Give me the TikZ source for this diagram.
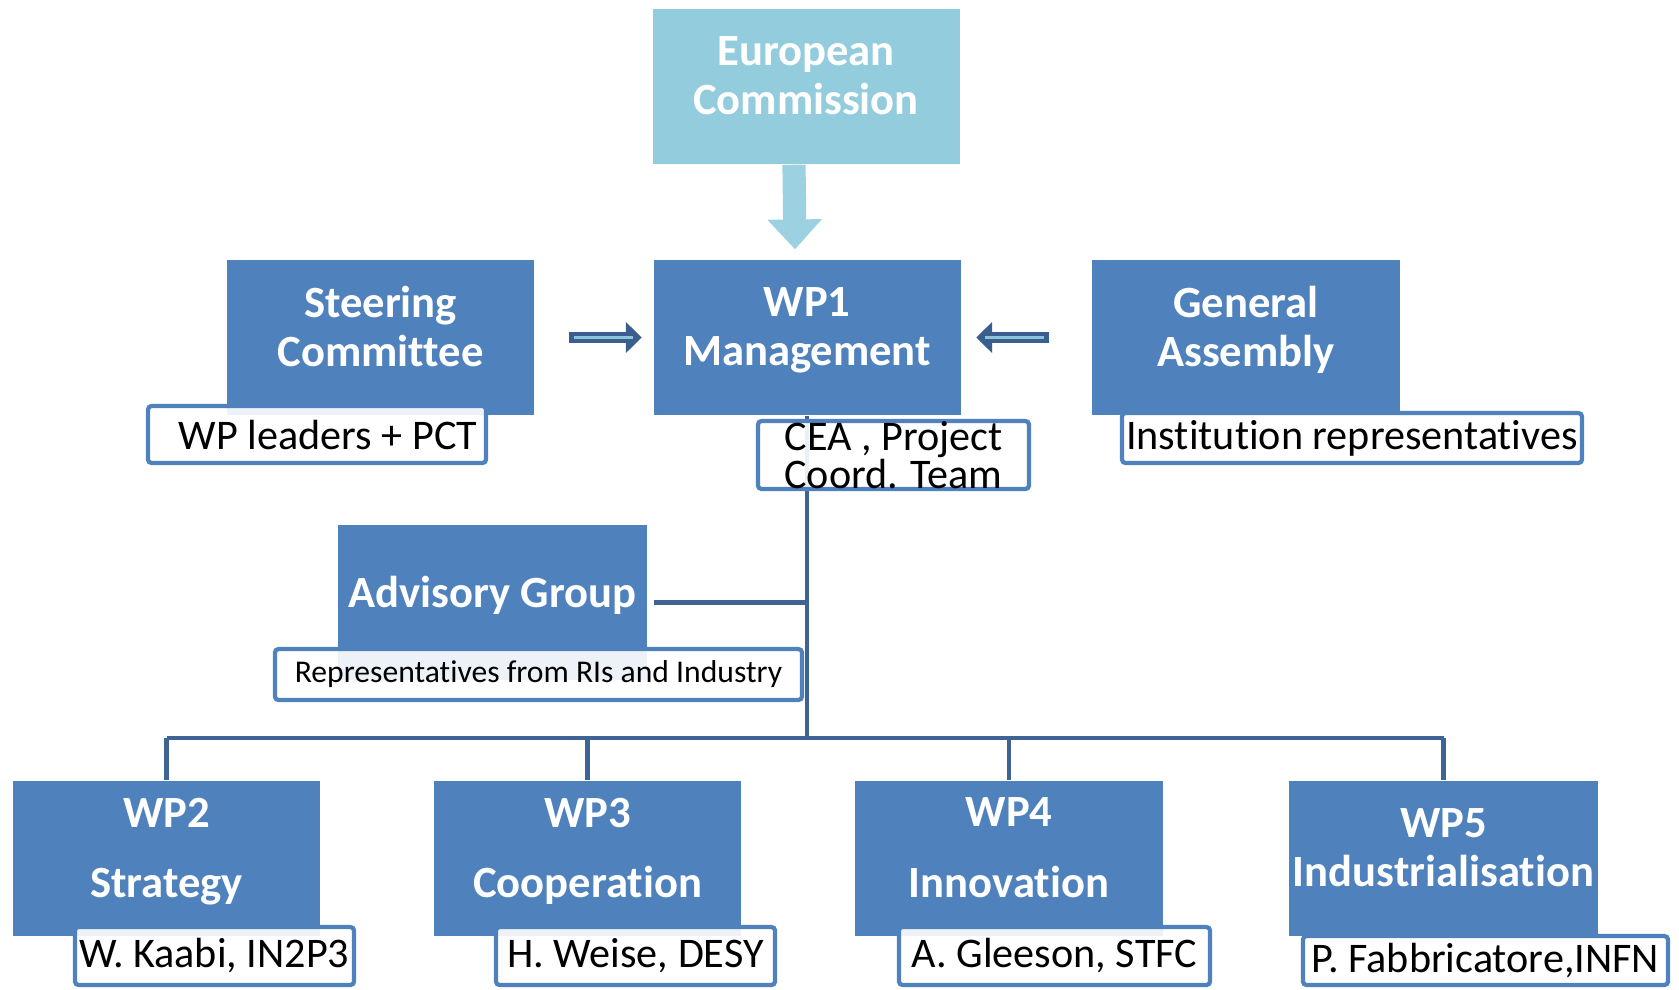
\documentclass[tikz,border=0pt]{standalone}
\usepackage{fontspec}
\setmainfont{Carlito}[Ligatures=NoCommon]
\usetikzlibrary{arrows.meta}
\usetikzlibrary{calc}
\definecolor{wpblue}{RGB}{79,129,189}
\definecolor{ecblue}{RGB}{147,205,221}
\definecolor{ecarrow}{RGB}{155,209,224}
\definecolor{linkblue}{RGB}{62,100,150}
\definecolor{arrdark}{RGB}{58,95,142}
\definecolor{arrlight}{RGB}{141,196,217}
\newcommand\tightlines{\fontsize{12}{11}\selectfont\lineskiplimit=-20pt\relax}
\tikzset{wp/.style={fill=wpblue,text=white,font=\bfseries\fontsize{12.7}{14}\selectfont,align=center,inner sep=0pt,minimum width=3.07cm,minimum height=1.55cm,text depth=0.22cm}}
\tikzset{who/.style={draw=wpblue,line width=1.2pt,fill=white,fill opacity=0.9,text opacity=1,rounded corners=1pt,inner sep=0pt,font=\fontsize{12}{14}\selectfont,minimum height=0.57cm}}
\tikzset{link/.style={draw=linkblue,line width=1.2pt}}
\tikzset{feed/.style={draw=arrdark,line width=3.4pt,-{Triangle[length=4.5pt,width=8.5pt]},postaction={draw=arrlight,line width=0.8pt,-,shorten <=1.6pt,shorten >=2.5pt}}}

\begin{document}
\begin{tikzpicture}
\useasboundingbox (0,0) rectangle (16.79,-9.89);

\node[wp,fill=ecblue] (ec) at (8.06,-0.865) {European\\Commission};
\node[wp] (wp1) at (8.07,-3.375) {WP1\\Management};
\node[wp] (sc) at (3.805,-3.375) {Steering\\Committee};
\node[wp,minimum width=3.08cm] (ga) at (12.46,-3.375) {General\\Assembly};
\node[wp,minimum width=3.09cm] (adv) at (4.925,-6.025) {Advisory Group};

\node[wp] (wp2) at (1.665,-8.585) {WP2\\[6pt]Strategy};
\node[wp] (wp3) at (5.875,-8.585) {WP3\\[6pt]Cooperation};
\node[wp,minimum width=3.08cm] (wp4) at (10.09,-8.585) {WP4\\[6pt]Innovation};
\node[wp,minimum width=3.09cm] (wp5) at (14.435,-8.585) {WP5\\Industrialisation};

\draw[ecarrow,line width=6.6pt,line join=round,-{Triangle[length=8.5pt,width=15pt]}] ([xshift=-0.12cm]ec.south) -- ([xshift=-0.12cm,yshift=0.1cm]wp1.north);
\draw[feed] ([xshift=0.34cm]sc.east) -- ([xshift=-0.11cm]wp1.west);
\draw[feed] ([xshift=-0.42cm]ga.west) -- ([xshift=0.15cm]wp1.east);

% tree below WP1
\coordinate (bus) at (8.07,-7.38);
\draw[link] (wp1.south) -- (bus);
\draw[link] ([xshift=0.06cm]adv.east) -- (adv.east -| wp1.south);
\draw[link] (wp2.north |- bus) -- (wp5.north |- bus);
\foreach \w in {wp2,wp3,wp4,wp5}
  \draw[link] (\w.north |- bus) -- (\w.north);

\node[who,minimum width=3.38cm] (scn) at (3.17,-4.345) {\hspace{0.22cm}WP leaders + PCT};
\node[who,minimum width=2.71cm,minimum height=0.66cm,align=center,font=\tightlines] (cea) at (8.935,-4.55) {CEA , Project\\Coord. Team};
\node[who,minimum width=4.60cm,minimum height=0.50cm] (gan) at (13.52,-4.38) {Institution representatives};
\node[who,minimum width=5.27cm,minimum height=0.51cm,font=\fontsize{9}{11}\selectfont] (advn) at (5.385,-6.745) {Representatives from RIs and Industry};

\node[who,minimum width=2.79cm,minimum height=0.58cm] (wp2n) at (2.145,-9.56) {W. Kaabi, IN2P3};
\node[who,minimum width=2.79cm,minimum height=0.58cm] (wp3n) at (6.355,-9.56) {H. Weise, DESY};
\node[who,minimum width=3.11cm,minimum height=0.58cm] (wp4n) at (10.545,-9.56) {A. Gleeson, STFC};
\node[who,minimum width=3.65cm,minimum height=0.49cm] (wp5n) at (14.855,-9.605) {P. Fabbricatore,INFN};
\end{tikzpicture}
\end{document}
